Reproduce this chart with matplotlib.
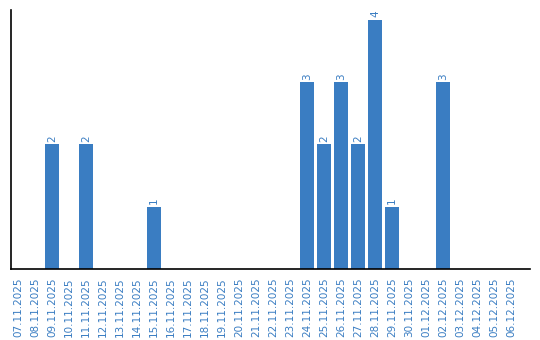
import matplotlib
matplotlib.use("Agg")
import matplotlib.pyplot as plt

dates = ["07.11.2025", "08.11.2025", "09.11.2025", "10.11.2025", "11.11.2025",
         "12.11.2025", "13.11.2025", "14.11.2025", "15.11.2025", "16.11.2025",
         "17.11.2025", "18.11.2025", "19.11.2025", "20.11.2025", "21.11.2025",
         "22.11.2025", "23.11.2025", "24.11.2025", "25.11.2025", "26.11.2025",
         "27.11.2025", "28.11.2025", "29.11.2025", "30.11.2025", "01.12.2025",
         "02.12.2025", "03.12.2025", "04.12.2025", "05.12.2025", "06.12.2025"]
values = [0, 0, 2, 0, 2, 0, 0, 0, 1, 0,
          0, 0, 0, 0, 0, 0, 0, 3, 2, 3,
          2, 4, 1, 0, 0, 3, 0, 0, 0, 0]

color = "#3a7dc2"
fig = plt.figure(figsize=(5.4, 3.4), dpi=100)
ax = fig.add_axes([11/540, 71/340, 519/540, 259/340])
x = list(range(len(dates)))
bars = ax.bar(x, values, width=0.82, color=color)
for xi, v in zip(x, values):
    if v > 0:
        ax.text(xi, v + 0.04, str(v), rotation=90, ha="center", va="bottom",
                fontsize=7.5, color=color)
ax.set_xlim(-0.41, 30.12)
ax.set_ylim(0, 4.16)
ax.set_xticks(x)
ax.set_xticklabels(dates, rotation=90, fontsize=7.5, color=color)
ax.tick_params(axis="x", length=0, pad=6)
ax.set_yticks([])
for s in ["top", "right"]:
    ax.spines[s].set_visible(False)
ax.spines["left"].set_linewidth(1.2)
ax.spines["bottom"].set_linewidth(1.2)
fig.savefig("out.png", dpi=100)
